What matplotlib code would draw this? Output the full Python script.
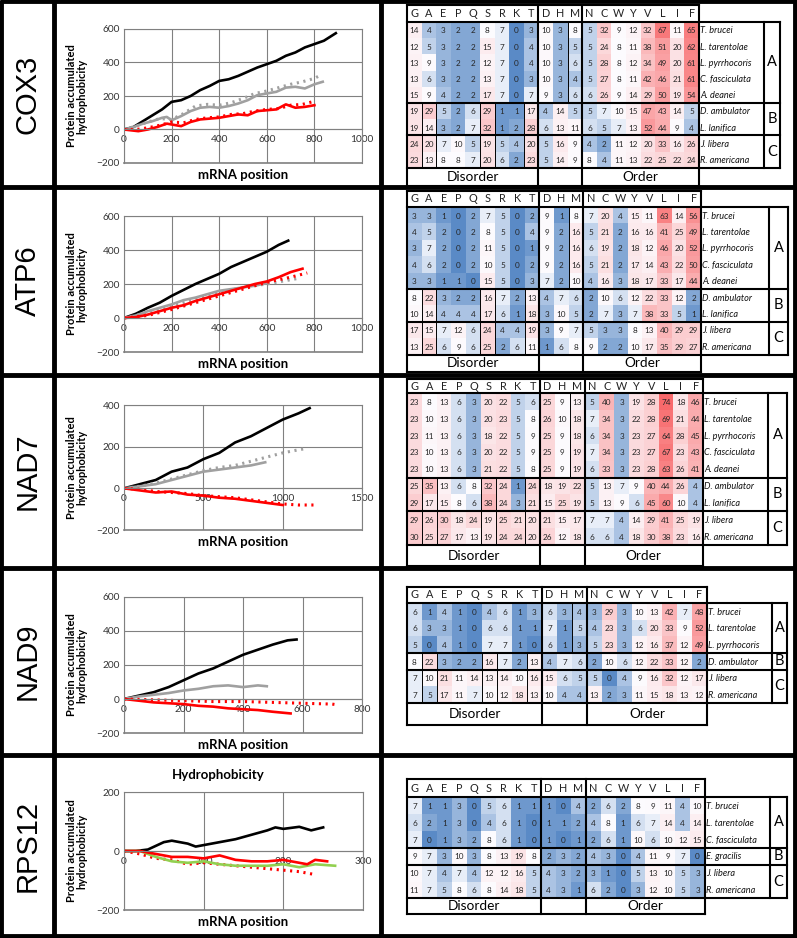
import numpy as np
import matplotlib.pyplot as plt
from matplotlib.colors import LinearSegmentedColormap, TwoSlopeNorm

plt.rcParams['font.family'] = ['Lato', 'DejaVu Sans']

# ---------------- data ----------------
genes = ['COX3', 'ATP6', 'NAD7', 'NAD9', 'RPS12']
aa = ['G', 'A', 'E', 'P', 'Q', 'S', 'R', 'K', 'T', 'D', 'H', 'M',
      'N', 'C', 'W', 'Y', 'V', 'L', 'I', 'F']

species9 = ['T. brucei', 'L. tarentolae', 'L. pyrrhocoris', 'C. fasciculata', 'A. deanei',
            'D. ambulator', 'L. lanifica', 'J. libera', 'R. americana']
groups9 = [('A', 0, 5), ('B', 5, 7), ('C', 7, 9)]
species_nad9 = ['T. brucei', 'L. tarentolae', 'L. pyrrhocoris', 'D. ambulator', 'J. libera', 'R. americana']
species_rps12 = ['T. brucei', 'L. tarentolae', 'C. fasciculata', 'E. gracilis', 'J. libera', 'R. americana']
groups6 = [('A', 0, 3), ('B', 3, 4), ('C', 4, 6)]

cox3_counts = [
    [14, 4, 3, 2, 2, 8, 7, 0, 3, 10, 3, 8, 5, 32, 9, 12, 32, 67, 11, 65],
    [12, 5, 3, 2, 2, 15, 7, 0, 4, 10, 3, 5, 5, 24, 8, 11, 38, 51, 20, 62],
    [13, 9, 3, 2, 2, 12, 7, 0, 4, 10, 3, 6, 5, 28, 8, 12, 34, 49, 20, 61],
    [13, 6, 3, 2, 2, 13, 7, 0, 3, 10, 3, 4, 5, 27, 8, 11, 42, 46, 21, 61],
    [15, 9, 4, 2, 2, 17, 7, 0, 7, 9, 3, 6, 6, 26, 9, 14, 29, 50, 19, 54],
    [19, 29, 5, 2, 6, 29, 1, 1, 17, 4, 14, 5, 5, 7, 10, 15, 47, 43, 14, 5],
    [19, 14, 3, 2, 7, 32, 1, 2, 28, 6, 13, 11, 6, 5, 7, 13, 52, 44, 9, 4],
    [24, 20, 7, 10, 5, 19, 5, 4, 20, 5, 16, 9, 4, 2, 11, 12, 20, 33, 16, 26],
    [23, 13, 8, 8, 7, 20, 6, 2, 23, 5, 14, 9, 8, 4, 11, 13, 22, 25, 22, 24],
]
atp6_counts = [
    [3, 3, 1, 0, 2, 7, 5, 0, 2, 9, 1, 8, 7, 20, 4, 15, 11, 63, 14, 56],
    [4, 5, 2, 0, 2, 8, 5, 0, 4, 9, 2, 16, 5, 21, 2, 16, 16, 41, 25, 49],
    [3, 7, 2, 0, 2, 11, 5, 0, 1, 9, 2, 16, 6, 19, 2, 18, 12, 46, 20, 52],
    [4, 6, 2, 0, 2, 10, 5, 0, 2, 9, 2, 16, 5, 21, 2, 17, 14, 43, 22, 50],
    [3, 3, 1, 1, 0, 15, 5, 0, 3, 7, 2, 10, 4, 16, 3, 18, 17, 33, 17, 44],
    [8, 22, 3, 2, 2, 16, 7, 2, 13, 4, 7, 6, 2, 10, 6, 12, 22, 33, 12, 2],
    [10, 14, 4, 4, 4, 17, 6, 1, 18, 3, 10, 5, 2, 7, 3, 7, 38, 33, 5, 1],
    [17, 15, 7, 12, 6, 24, 4, 4, 19, 3, 9, 7, 5, 3, 3, 8, 13, 40, 29, 29],
    [13, 25, 6, 9, 6, 25, 2, 6, 11, 1, 6, 8, 9, 2, 2, 10, 17, 35, 29, 27],
]
nad7_counts = [
    [23, 8, 13, 6, 3, 20, 22, 5, 6, 25, 9, 13, 5, 40, 3, 19, 28, 74, 18, 46],
    [23, 10, 13, 6, 3, 20, 23, 5, 8, 26, 10, 18, 7, 34, 3, 22, 28, 69, 21, 44],
    [23, 11, 13, 6, 3, 18, 22, 5, 9, 25, 9, 18, 6, 34, 3, 23, 27, 64, 28, 45],
    [23, 10, 13, 6, 3, 20, 22, 5, 9, 25, 9, 19, 7, 34, 3, 23, 27, 67, 23, 43],
    [23, 10, 13, 6, 3, 21, 22, 5, 8, 25, 9, 19, 6, 33, 3, 23, 28, 63, 26, 41],
    [25, 35, 13, 6, 8, 32, 24, 1, 24, 18, 19, 22, 5, 13, 7, 9, 40, 44, 26, 4],
    [29, 17, 15, 8, 6, 38, 24, 3, 21, 15, 25, 19, 5, 13, 9, 6, 45, 60, 10, 4],
    [29, 26, 30, 18, 24, 19, 25, 21, 20, 21, 15, 17, 7, 7, 4, 14, 29, 41, 25, 19],
    [30, 25, 27, 17, 13, 19, 24, 24, 20, 26, 12, 18, 6, 6, 4, 18, 30, 38, 23, 16],
]
nad9_counts = [
    [6, 1, 4, 1, 0, 4, 6, 1, 3, 6, 3, 4, 3, 29, 3, 10, 13, 42, 7, 48],
    [6, 3, 3, 1, 0, 6, 6, 1, 1, 7, 1, 5, 4, 23, 3, 6, 20, 33, 9, 52],
    [5, 0, 4, 1, 0, 7, 7, 1, 0, 6, 1, 3, 5, 23, 3, 12, 16, 37, 12, 49],
    [8, 22, 3, 2, 2, 16, 7, 2, 13, 4, 7, 6, 2, 10, 6, 12, 22, 33, 12, 2],
    [7, 10, 21, 11, 14, 13, 14, 10, 16, 15, 6, 5, 5, 0, 4, 9, 16, 32, 12, 17],
    [7, 5, 17, 11, 7, 10, 12, 18, 13, 10, 4, 4, 13, 2, 3, 11, 15, 18, 13, 12],
]
rps12_counts = [
    [7, 1, 1, 3, 0, 5, 6, 1, 1, 1, 0, 4, 2, 6, 2, 8, 9, 11, 4, 10],
    [6, 2, 1, 3, 0, 4, 6, 1, 0, 1, 1, 2, 4, 8, 1, 6, 7, 14, 4, 14],
    [7, 0, 1, 3, 2, 8, 6, 1, 0, 1, 0, 1, 2, 6, 1, 10, 6, 10, 12, 15],
    [9, 7, 3, 10, 3, 8, 13, 19, 8, 2, 3, 2, 4, 3, 0, 4, 11, 9, 7, 0],
    [10, 7, 4, 7, 4, 12, 12, 16, 5, 4, 3, 2, 3, 1, 0, 5, 13, 10, 5, 3],
    [11, 7, 5, 8, 6, 8, 14, 18, 5, 4, 3, 1, 6, 2, 0, 3, 12, 10, 5, 3],
]

# accumulated hydrophobicity curves (mRNA position, value)
cox3_black_x = [0, 40, 80, 120, 160, 200, 240, 280, 320, 360, 400, 440, 480, 520, 560, 600, 640, 680, 720, 760, 800, 840, 890]
cox3_black_y = [0, 15, 50, 85, 120, 165, 175, 200, 235, 260, 290, 300, 320, 345, 370, 390, 410, 440, 460, 490, 510, 530, 575]
cox3_grey_x = [0, 40, 80, 120, 160, 180, 200, 240, 280, 320, 360, 400, 440, 480, 520, 560, 600, 640, 680, 720, 760, 800, 835]
cox3_grey_y = [0, 15, 35, 50, 70, 75, 55, 80, 110, 130, 135, 130, 140, 155, 175, 205, 215, 225, 250, 255, 245, 270, 285]
cox3_greyd_x = [0, 50, 100, 150, 200, 250, 300, 350, 400, 450, 500, 550, 600, 650, 700, 750, 800, 820]
cox3_greyd_y = [0, 20, 45, 65, 60, 95, 140, 150, 145, 160, 185, 215, 230, 250, 270, 285, 305, 320]
cox3_red_x = [0, 30, 60, 100, 140, 180, 200, 240, 280, 320, 360, 400, 440, 480, 520, 560, 600, 640, 680, 720, 760, 800]
cox3_red_y = [0, -5, -10, 0, 15, 35, 30, 20, 45, 60, 65, 70, 80, 90, 85, 110, 115, 120, 150, 130, 135, 145]
cox3_redd_x = [0, 50, 100, 150, 200, 250, 300, 350, 400, 450, 500, 550, 600, 650, 700, 750, 790]
cox3_redd_y = [0, 0, 10, 25, 45, 40, 60, 70, 75, 90, 95, 110, 120, 125, 145, 150, 165]

atp6_black_x = [0, 50, 100, 150, 200, 250, 300, 350, 400, 450, 500, 550, 600, 650, 690]
atp6_black_y = [0, 25, 60, 90, 130, 165, 200, 230, 260, 300, 330, 360, 390, 430, 455]
atp6_grey_x = [0, 50, 100, 150, 200, 250, 300, 350, 400, 450, 500, 550, 600]
atp6_grey_y = [0, 15, 40, 60, 80, 105, 120, 140, 160, 170, 180, 190, 205]
atp6_greyd_x = [0, 100, 200, 300, 400, 500, 600, 700, 740]
atp6_greyd_y = [0, 30, 70, 110, 150, 180, 200, 225, 235]
atp6_red_x = [0, 50, 100, 150, 200, 250, 300, 350, 400, 450, 500, 550, 600, 650, 700, 750]
atp6_red_y = [0, 5, 20, 40, 60, 75, 100, 120, 140, 160, 180, 200, 215, 240, 270, 290]
atp6_redd_x = [0, 100, 200, 300, 400, 500, 600, 700, 770]
atp6_redd_y = [0, 15, 50, 90, 130, 170, 210, 240, 265]

nad7_black_x = [0, 100, 200, 300, 400, 500, 600, 700, 800, 900, 1000, 1100, 1170]
nad7_black_y = [0, 20, 40, 80, 100, 140, 170, 220, 250, 290, 330, 360, 385]
nad7_grey_x = [0, 100, 200, 300, 400, 500, 600, 700, 800, 890]
nad7_grey_y = [0, 10, 20, 40, 60, 80, 90, 100, 110, 125]
nad7_greyd_x = [0, 100, 200, 300, 400, 500, 600, 700, 800, 900, 1000, 1100, 1140]
nad7_greyd_y = [0, 10, 25, 45, 65, 85, 100, 110, 130, 150, 170, 185, 190]
nad7_red_x = [0, 100, 200, 300, 400, 500, 600, 700, 800, 900, 1000]
nad7_red_y = [0, -10, -20, -15, -30, -35, -45, -50, -60, -70, -80]
nad7_redd_x = [0, 100, 200, 300, 400, 500, 600, 700, 800, 900, 1000, 1100, 1200]
nad7_redd_y = [0, -5, -15, -20, -25, -35, -40, -45, -55, -65, -75, -80, -80]

nad9_black_x = [0, 50, 100, 150, 200, 250, 300, 350, 400, 450, 500, 550, 580]
nad9_black_y = [0, 20, 40, 70, 110, 150, 180, 220, 260, 290, 320, 345, 350]
nad9_grey_x = [0, 50, 100, 150, 200, 250, 300, 350, 400, 450, 480]
nad9_grey_y = [0, 15, 25, 35, 50, 60, 75, 80, 70, 80, 75]
nad9_red_x = [0, 50, 100, 150, 200, 250, 300, 350, 400, 450, 500, 560]
nad9_red_y = [0, -10, -20, -25, -30, -40, -45, -55, -60, -65, -75, -85]
nad9_redd_x = [0, 100, 200, 300, 400, 500, 600, 700, 720]
nad9_redd_y = [0, -5, -10, -15, -15, -20, -25, -30, -35]

rps12_black_x = [0, 15, 30, 50, 60, 80, 90, 100, 120, 140, 160, 180, 190, 200, 220, 235, 250]
rps12_black_y = [0, 0, 5, 30, 35, 25, 15, 20, 30, 40, 55, 70, 80, 75, 82, 70, 80]
rps12_red_x = [0, 20, 40, 60, 80, 100, 120, 140, 160, 180, 200, 220, 230, 240, 255]
rps12_red_y = [0, 0, -10, -20, -20, -25, -15, -30, -35, -35, -30, -40, -45, -30, -35]
rps12_redd_x = [0, 20, 40, 60, 80, 100, 120, 140, 160, 180, 200, 220, 240]
rps12_redd_y = [0, -10, -25, -30, -45, -40, -45, -50, -55, -60, -65, -70, -80]
rps12_green_x = [0, 20, 40, 60, 80, 100, 120, 140, 160, 180, 200, 220, 240, 265]
rps12_green_y = [0, 0, -20, -35, -40, -35, -45, -50, -50, -50, -45, -55, -45, -50]

# ---------------- figure ----------------
W, H = 797, 938
fig = plt.figure(figsize=(W / 100, H / 100), dpi=100)


def px_axes(x0, y0, x1, y1):
    return fig.add_axes([x0 / W, 1 - y1 / H, (x1 - x0) / W, (y1 - y0) / H])


bg = px_axes(0, 0, W, H)
bg.set_xlim(0, W)
bg.set_ylim(H, 0)
bg.axis('off')
row_edges = [1.5, 187, 375, 568, 755, 936.5]
for y in row_edges:
    bg.plot([0, W], [y, y], color='black', lw=3.5, solid_capstyle='butt')
for x in [1, 54, 381, 795.5]:
    bg.plot([x, x], [0, H], color='black', lw=3.5, solid_capstyle='butt')
for g, (y0, y1) in zip(genes, zip(row_edges[:-1], row_edges[1:])):
    bg.text(28, (y0 + y1) / 2, g, rotation=90, ha='center', va='center', fontsize=21,
            family=['Liberation Sans Narrow', 'Liberation Sans'])

GREY = '#a0a0a0'
RED = '#ff0000'
GREEN = '#92d050'


def line_plot(box, xmax, xstep, ylim, ystep, curves, title=None):
    x0, y0, x1, y1 = box
    ax = px_axes(x0, y0, x1, y1)
    for xs, ys, col, dotted in curves:
        if dotted:
            ax.plot(xs, ys, color=col, lw=2.2, ls=(0, (0.7, 1.5)))
        else:
            ax.plot(xs, ys, color=col, lw=1.9)
    ax.set_xlim(0, xmax)
    ax.set_ylim(*ylim)
    ax.set_xticks(np.arange(0, xmax + 1, xstep))
    ax.set_yticks(np.arange(ylim[0], ylim[1] + 1, ystep))
    ax.grid(True, color='#808080', lw=0.8)
    ax.set_axisbelow(True)
    for s in ['top', 'right', 'left']:
        ax.spines[s].set_color('#808080')
        ax.spines[s].set_linewidth(0.8)
    ax.spines['bottom'].set_position(('data', 0))
    ax.spines['bottom'].set_color('#808080')
    ax.spines['bottom'].set_linewidth(0.8)
    ax.axhline(ylim[0], color='#808080', lw=1.2, clip_on=False)
    ax.tick_params(length=0, labelsize=7.3, pad=3, colors='#333333')
    ax.tick_params(axis='x', pad=4)
    h = y1 - y0
    ax.text(-(x0 - 77) / (x1 - x0), 0.5, 'Protein accumulated\nhydrophobicity', transform=ax.transAxes,
            rotation=90, ha='center', va='center', fontsize=8, fontweight='bold', linespacing=0.95)
    ax.text((243 - x0) / (x1 - x0), -12 / h, 'mRNA position', transform=ax.transAxes,
            ha='center', va='center', fontsize=9.5, fontweight='bold')
    if title:
        ax.text((218 - x0) / (x1 - x0), 1 + 17 / h, title, transform=ax.transAxes,
                ha='center', va='center', fontsize=9.5, fontweight='bold')
    return ax


line_plot((124, 29, 362, 163), 1000, 200, (-200, 600), 200, [
    (cox3_black_x, cox3_black_y, 'black', False),
    (cox3_greyd_x, cox3_greyd_y, GREY, True),
    (cox3_grey_x, cox3_grey_y, GREY, False),
    (cox3_redd_x, cox3_redd_y, RED, True),
    (cox3_red_x, cox3_red_y, RED, False)])
line_plot((124, 216, 362, 352), 1000, 200, (-200, 600), 200, [
    (atp6_black_x, atp6_black_y, 'black', False),
    (atp6_greyd_x, atp6_greyd_y, GREY, True),
    (atp6_grey_x, atp6_grey_y, GREY, False),
    (atp6_redd_x, atp6_redd_y, RED, True),
    (atp6_red_x, atp6_red_y, RED, False)])
line_plot((124, 405, 362, 530), 1500, 500, (-200, 400), 200, [
    (nad7_black_x, nad7_black_y, 'black', False),
    (nad7_greyd_x, nad7_greyd_y, GREY, True),
    (nad7_grey_x, nad7_grey_y, GREY, False),
    (nad7_redd_x, nad7_redd_y, RED, True),
    (nad7_red_x, nad7_red_y, RED, False)])
line_plot((124, 597, 362, 733), 800, 200, (-200, 600), 200, [
    (nad9_black_x, nad9_black_y, 'black', False),
    (nad9_grey_x, nad9_grey_y, GREY, False),
    (nad9_redd_x, nad9_redd_y, RED, True),
    (nad9_red_x, nad9_red_y, RED, False)])
line_plot((124, 792, 363, 910), 300, 100, (-200, 200), 200, [
    (rps12_black_x, rps12_black_y, 'black', False),
    (rps12_redd_x, rps12_redd_y, RED, True),
    (rps12_green_x, rps12_green_y, GREEN, False),
    (rps12_red_x, rps12_red_y, RED, False)], title='Hydrophobicity')

# one colour scale shared by all tables (min / median / max)
cmap = LinearSegmentedColormap.from_list('excel3', ['#5a8ac6', '#fcfcff', '#f8696b'])
all_counts = np.concatenate([np.ravel(c) for c in
                             [cox3_counts, atp6_counts, nad7_counts, nad9_counts, rps12_counts]])
norm = TwoSlopeNorm(vmin=all_counts.min(), vcenter=np.percentile(all_counts, 50), vmax=all_counts.max())


def heatmap(counts, species, groups, x0, x_cells, x_grp0, x_grp1, ytop, hh, rh, bh, inner=True):
    n = len(species)
    cw = (x_cells - x0) / 20.0
    xs = 20.0
    xg = (x_grp0 - x0) / cw
    xe = (x_grp1 - x0) / cw
    ax = px_axes(x0, ytop, x_grp1, ytop + hh + n * rh + bh)
    top = -hh / rh
    bot = n + bh / rh
    ax.set_xlim(0, xe)
    ax.set_ylim(bot, top)
    ax.axis('off')
    ax.pcolormesh(np.arange(21), np.arange(n + 1), np.array(counts, dtype=float), cmap=cmap, norm=norm)
    for i in range(n):
        for j in range(20):
            ax.text(j + 0.5, i + 0.55, str(counts[i][j]), ha='center', va='center',
                    fontsize=5.9, color='#262626')
        ax.text(xs + 0.08, i + 0.55, species[i], ha='left', va='center', fontsize=6.6,
                style='italic', color='#111111')
    for j, a in enumerate(aa):
        ax.text(j + 0.5, top / 2, a, ha='center', va='center', fontsize=7.8, color='#222222')
    ax.text(4.5, n + (bot - n) / 2, 'Disorder', ha='center', va='center', fontsize=9.8)
    ax.text(16, n + (bot - n) / 2, 'Order', ha='center', va='center', fontsize=9.8)
    kw = dict(color='black', lw=1.5, clip_on=False, solid_capstyle='projecting')
    thin = dict(color='black', lw=0.7, clip_on=False)
    for x in [0, 9, 12, 20]:
        ax.plot([x, x], [top, bot], **kw)
    ax.plot([0, 20], [top, top], **kw)
    ax.plot([0, 20], [bot, bot], **kw)
    ax.plot([0, xe], [0, 0], **kw)
    ax.plot([0, xe], [n, n], **kw)
    ax.plot([xg, xg], [0, n], **kw)
    ax.plot([xe, xe], [0, n], **kw)
    for lab, r0, r1 in groups:
        if r0 > 0:
            ax.plot([0, xe], [r0, r0], **kw)
        ax.text((xg + xe) / 2, (r0 + r1) / 2, lab, ha='center', va='center', fontsize=10.5)
        if inner:
            if lab == 'A':
                ax.plot([11, 11], [r0, r1], **thin)
            else:
                for x in [1, 2, 5, 6, 8]:
                    ax.plot([x, x], [r0, r1], **thin)
    return ax


heatmap(cox3_counts, species9, groups9, 407, 699, 764, 780, 5, 17, 16.2, 18)
heatmap(atp6_counts, species9, groups9, 407, 701, 769, 788, 191, 16, 16.4, 17)
heatmap(nad7_counts, species9, groups9, 407, 703, 768, 787, 379, 14, 16.9, 21)
heatmap(nad9_counts, species_nad9, groups6, 407, 707, 772, 787, 587, 16, 16.67, 22)
heatmap(rps12_counts, species_rps12, groups6, 407, 705, 770, 787, 779, 18, 16.9, 16, inner=False)

fig.savefig('out.png', dpi=100)
